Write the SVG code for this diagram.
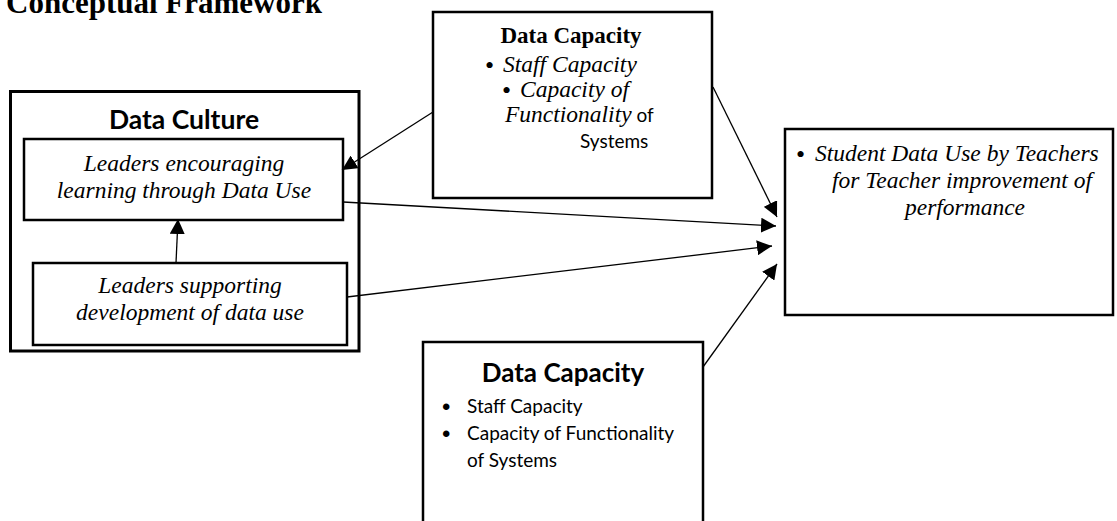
<svg xmlns="http://www.w3.org/2000/svg" width="1117" height="521" viewBox="0 0 1117 521">
  <style>
    .box { fill: #fff; stroke: #000; stroke-width: 2.5; }
    .outer { fill: none; stroke: #000; stroke-width: 3; }
    .serif { font-family: "Liberation Serif", "Times New Roman", serif; fill: #000; }
    .it { font-style: italic; font-size: 23.5px; }
    .sans { font-family: Lato, "Liberation Sans", Arial, sans-serif; fill: #000; }
    .mid { text-anchor: middle; }
    .dot { font-family: "Liberation Serif", serif; font-size: 26px; fill: #000; }
    .sdot { font-family: "Liberation Sans", sans-serif; font-size: 24px; fill: #000; }
    .link { stroke: #000; stroke-width: 1.3; fill: none; marker-end: url(#head); }
  </style>
  <defs>
    <marker id="head" markerUnits="userSpaceOnUse" markerWidth="16" markerHeight="15" refX="15" refY="7.5" orient="auto">
      <path d="M0,0 L15,7.5 L0,15 z" fill="#000"/>
    </marker>
  </defs>
  <rect width="1117" height="521" fill="#fff"/>

  <text class="serif" x="6" y="13" font-size="31" font-weight="bold">Conceptual Framework</text>

  <!-- Data Culture container -->
  <g id="data-culture">
    <rect class="outer" x="10.5" y="91.5" width="348.5" height="259.5"/>
    <text class="sans mid" x="184" y="129" font-size="26.5" font-weight="bold">Data Culture</text>
  </g>

  <g id="leaders-encouraging">
    <rect class="box" x="24" y="139" width="319" height="81"/>
    <text class="serif it mid" x="184" y="171">Leaders encouraging</text>
    <text class="serif it mid" x="184" y="198">learning through Data Use</text>
  </g>

  <g id="leaders-supporting">
    <rect class="box" x="33" y="263" width="314" height="82"/>
    <text class="serif it mid" x="190" y="293">Leaders supporting</text>
    <text class="serif it mid" x="190" y="320">development of data use</text>
  </g>

  <!-- Data Capacity (top) -->
  <g id="data-capacity-top">
    <rect class="box" x="433" y="12" width="279" height="186"/>
    <text class="serif mid" x="571" y="43" font-size="23" font-weight="bold">Data Capacity</text>
    <text class="dot" x="485" y="74">•</text>
    <text class="serif it" x="503" y="72">Staff  Capacity</text>
    <text class="dot" x="502" y="99">•</text>
    <text class="serif it" x="520" y="97">Capacity of</text>
    <text x="505" y="122"><tspan class="serif it">Functionality</tspan><tspan class="sans" font-size="19"> of</tspan></text>
    <text class="sans" x="580" y="148" font-size="19">Systems</text>
  </g>

  <!-- Outcome -->
  <g id="student-data-use">
    <rect class="box" x="785" y="129" width="328" height="186"/>
    <text class="dot" x="796" y="163">•</text>
    <text class="serif it" x="815" y="161">Student Data Use by Teachers</text>
    <text class="serif it" x="832" y="188">for Teacher improvement of</text>
    <text class="serif it mid" x="965" y="215">performance</text>
  </g>

  <!-- Data Capacity (bottom) -->
  <g id="data-capacity-bottom">
    <rect class="box" x="423" y="342" width="280" height="200"/>
    <text class="sans mid" x="563" y="382" font-size="26" font-weight="bold">Data Capacity</text>
    <text class="sdot" x="442" y="415">•</text>
    <text class="sans" x="467" y="413" font-size="19">Staff  Capacity</text>
    <text class="sdot" x="442" y="442">•</text>
    <text class="sans" x="467" y="440" font-size="19">Capacity of Functionality</text>
    <text class="sans" x="467" y="467" font-size="19">of  Systems</text>
  </g>

  <g id="connectors">
    <line class="link" x1="433" y1="112" x2="342" y2="170"/>
    <line class="link" x1="713" y1="87" x2="777" y2="217"/>
    <line class="link" x1="343" y1="202" x2="776" y2="226"/>
    <line class="link" x1="347" y1="297" x2="772" y2="246"/>
    <line class="link" x1="703" y1="367" x2="777" y2="264"/>
    <line class="link" x1="176" y1="263" x2="178" y2="219"/>
  </g>
</svg>
